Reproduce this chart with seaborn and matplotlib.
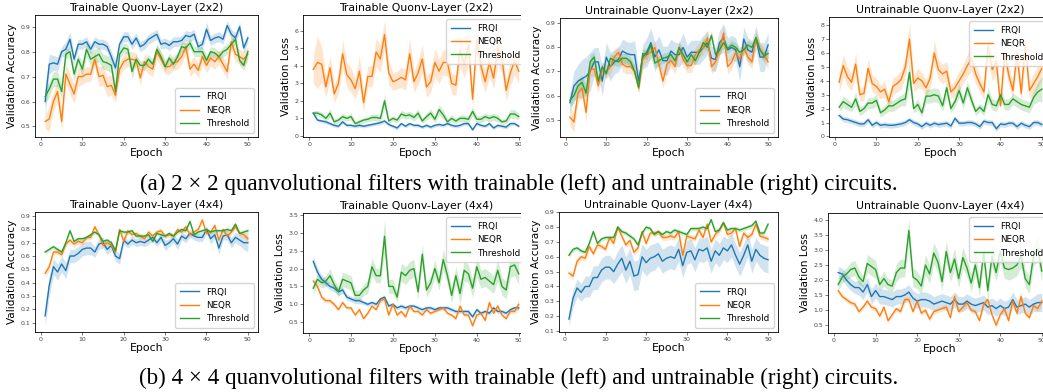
import numpy as np
import pandas as pd
import matplotlib
matplotlib.use("Agg")
import matplotlib.pyplot as plt
from matplotlib.patches import Rectangle
from matplotlib.ticker import MultipleLocator
import seaborn as sns

epochs = list(range(1, 51))
series_names = ["FRQI", "NEQR", "Threshold"]
colors = ["#1f77b4", "#ff7f0e", "#2ca02c"]

# ---------- (a) 2x2, trainable, accuracy ----------
a_tr_acc_frqi = [0.60,0.75,0.755,0.75,0.80,0.81,0.85,0.77,0.83,0.83,0.84,0.81,0.84,0.83,0.83,0.82,0.78,0.735,0.83,0.86,
                 0.86,0.83,0.855,0.82,0.83,0.85,0.86,0.87,0.83,0.835,0.825,0.84,0.84,0.845,0.865,0.86,0.87,0.82,0.83,0.89,
                 0.845,0.855,0.86,0.85,0.905,0.87,0.855,0.90,0.815,0.855]
a_tr_acc_neqr = [0.52,0.53,0.60,0.64,0.52,0.71,0.67,0.63,0.70,0.70,0.71,0.71,0.77,0.70,0.705,0.66,0.665,0.625,0.73,0.76,
                 0.77,0.77,0.765,0.695,0.76,0.74,0.73,0.80,0.77,0.74,0.74,0.755,0.76,0.78,0.82,0.73,0.75,0.725,0.78,0.745,
                 0.775,0.76,0.78,0.75,0.72,0.84,0.79,0.78,0.77,0.79]
a_tr_acc_thr = [0.62,0.65,0.69,0.69,0.64,0.79,0.80,0.71,0.77,0.73,0.81,0.77,0.78,0.79,0.76,0.755,0.745,0.64,0.79,0.815,
                0.81,0.72,0.77,0.745,0.745,0.77,0.75,0.81,0.78,0.74,0.775,0.75,0.78,0.82,0.815,0.835,0.80,0.80,0.80,0.765,
                0.80,0.795,0.78,0.80,0.81,0.83,0.85,0.765,0.745,0.80]
a_tr_acc_frqi_sd = [0.06,0.04,0.03,0.03,0.02,0.03,0.03,0.02,0.02,0.02,0.02,0.02,0.02,0.02,0.02,0.02,0.02,0.03,0.02,0.02,
                    0.02,0.02,0.02,0.02,0.02,0.02,0.02,0.02,0.02,0.02,0.02,0.02,0.02,0.02,0.02,0.02,0.02,0.02,0.02,0.03,
                    0.02,0.02,0.02,0.02,0.02,0.02,0.02,0.02,0.02,0.02]
a_tr_acc_neqr_sd = [0.03,0.05,0.04,0.04,0.04,0.04,0.04,0.04,0.04,0.03,0.03,0.03,0.03,0.04,0.04,0.04,0.04,0.03,0.03,0.03,
                    0.03,0.03,0.03,0.03,0.03,0.03,0.03,0.03,0.03,0.03,0.03,0.03,0.03,0.03,0.03,0.03,0.03,0.03,0.03,0.03,
                    0.03,0.03,0.03,0.03,0.03,0.03,0.03,0.03,0.03,0.03]
a_tr_acc_thr_sd = [0.03,0.03,0.03,0.03,0.03,0.02,0.02,0.03,0.02,0.03,0.03,0.03,0.03,0.03,0.03,0.03,0.03,0.03,0.02,0.02,
                   0.02,0.03,0.02,0.02,0.02,0.02,0.02,0.02,0.02,0.02,0.02,0.02,0.02,0.02,0.02,0.02,0.02,0.02,0.02,0.02,
                   0.02,0.02,0.02,0.02,0.02,0.02,0.02,0.02,0.02,0.02]

# ---------- (a) 2x2, trainable, loss ----------
a_tr_loss_frqi = [1.3,0.9,0.85,0.8,0.7,0.6,0.55,0.8,0.6,0.6,0.55,0.6,0.55,0.6,0.65,0.7,0.75,0.85,0.65,0.55,
                  0.45,0.7,0.55,0.7,0.6,0.6,0.5,0.6,0.5,0.6,0.65,0.6,0.7,0.6,0.55,0.6,0.7,0.7,0.35,0.7,
                  0.6,0.55,0.7,0.45,0.6,0.55,0.5,0.7,0.7,0.55]
a_tr_loss_neqr = [3.8,4.2,4.1,2.8,3.9,2.4,3.0,4.7,3.5,3.2,2.7,3.7,1.9,3.4,3.4,4.8,4.4,5.8,3.6,3.1,
                  3.2,3.35,3.2,4.7,3.1,3.6,4.4,2.8,3.1,4.2,3.7,4.2,4.2,3.0,2.9,4.9,4.1,5.2,2.1,5.5,
                  4.0,3.1,4.2,3.3,5.0,4.4,2.6,3.6,4.3,3.7]
a_tr_loss_thr = [1.3,1.3,1.2,1.0,1.3,0.8,0.9,1.1,1.0,1.1,0.7,0.8,0.9,0.95,1.05,1.05,1.0,2.0,0.85,1.0,
                 0.9,1.25,1.15,1.2,1.05,1.3,0.85,1.1,1.3,0.95,1.5,1.2,0.8,1.0,0.85,1.0,1.0,0.95,1.4,0.95,
                 0.95,1.1,1.0,1.1,1.0,0.8,0.85,1.25,1.25,1.1]
a_tr_loss_frqi_sd = [0.1,0.1,0.1,0.1,0.1,0.1,0.1,0.1,0.1,0.1,0.1,0.1,0.1,0.1,0.1,0.1,0.1,0.1,0.1,0.1,
                     0.1,0.1,0.1,0.1,0.1,0.1,0.1,0.1,0.1,0.1,0.1,0.1,0.1,0.1,0.1,0.1,0.1,0.1,0.1,0.1,
                     0.1,0.1,0.1,0.1,0.1,0.1,0.1,0.1,0.1,0.1]
a_tr_loss_neqr_sd = [0.8,1.5,1.0,0.6,0.7,0.5,0.6,0.8,0.7,0.7,0.6,0.9,0.5,0.6,0.6,0.8,0.8,0.8,0.7,0.5,
                     0.5,0.6,0.6,0.9,0.6,0.7,0.8,0.6,0.6,0.8,0.7,0.7,0.8,0.6,0.6,0.9,0.8,1.0,0.5,1.0,
                     0.8,0.6,0.8,0.6,0.9,0.8,0.6,0.7,0.8,0.7]
a_tr_loss_thr_sd = [0.15,0.15,0.15,0.15,0.25,0.15,0.15,0.2,0.15,0.2,0.1,0.15,0.15,0.15,0.2,0.2,0.2,0.4,0.15,0.15,
                    0.15,0.2,0.2,0.2,0.2,0.25,0.15,0.2,0.25,0.2,0.3,0.25,0.15,0.2,0.15,0.2,0.2,0.2,0.25,0.2,
                    0.2,0.2,0.2,0.2,0.2,0.15,0.15,0.25,0.25,0.2]

# ---------- (a) 2x2, untrainable, accuracy ----------
a_un_acc_frqi = [0.57,0.64,0.66,0.67,0.68,0.70,0.74,0.74,0.66,0.76,0.72,0.74,0.75,0.785,0.775,0.77,0.77,0.66,0.76,0.78,
                 0.82,0.76,0.79,0.745,0.745,0.785,0.77,0.77,0.80,0.76,0.78,0.78,0.78,0.80,0.82,0.755,0.75,0.82,0.84,0.79,
                 0.80,0.79,0.72,0.835,0.79,0.78,0.84,0.76,0.76,0.81]
a_un_acc_neqr = [0.51,0.49,0.61,0.63,0.53,0.71,0.71,0.64,0.71,0.70,0.72,0.76,0.78,0.73,0.72,0.72,0.70,0.63,0.75,0.77,
                 0.78,0.80,0.73,0.66,0.73,0.745,0.72,0.80,0.75,0.725,0.725,0.77,0.79,0.80,0.84,0.72,0.74,0.79,0.86,0.72,
                 0.74,0.78,0.75,0.80,0.76,0.74,0.84,0.79,0.77,0.74]
a_un_acc_thr = [0.58,0.60,0.64,0.655,0.61,0.74,0.76,0.66,0.72,0.69,0.755,0.745,0.74,0.755,0.755,0.74,0.70,0.635,0.775,0.77,
                0.81,0.735,0.745,0.755,0.76,0.77,0.745,0.80,0.77,0.74,0.77,0.745,0.78,0.82,0.80,0.85,0.77,0.79,0.82,0.795,
                0.81,0.80,0.78,0.79,0.81,0.80,0.84,0.79,0.765,0.775]
a_un_acc_frqi_sd = [0.04,0.06,0.07,0.08,0.08,0.08,0.06,0.06,0.06,0.06,0.06,0.05,0.05,0.05,0.05,0.05,0.06,0.04,0.05,0.06,
                    0.06,0.06,0.06,0.06,0.06,0.05,0.05,0.05,0.06,0.05,0.05,0.05,0.05,0.05,0.05,0.05,0.05,0.05,0.06,0.05,
                    0.05,0.05,0.06,0.05,0.05,0.05,0.05,0.06,0.06,0.05]
a_un_acc_neqr_sd = [0.04,0.04,0.04,0.04,0.04,0.03,0.03,0.03,0.03,0.03,0.03,0.03,0.03,0.03,0.03,0.03,0.03,0.02,0.03,0.03,
                    0.03,0.03,0.03,0.03,0.03,0.03,0.03,0.03,0.03,0.03,0.03,0.03,0.03,0.03,0.03,0.03,0.03,0.03,0.03,0.03,
                    0.03,0.03,0.03,0.03,0.03,0.03,0.03,0.03,0.03,0.03]
a_un_acc_thr_sd = [0.03,0.03,0.03,0.03,0.03,0.03,0.02,0.02,0.02,0.02,0.02,0.02,0.02,0.02,0.02,0.02,0.02,0.02,0.02,0.02,
                   0.02,0.02,0.02,0.02,0.02,0.02,0.02,0.02,0.02,0.02,0.02,0.02,0.02,0.02,0.02,0.02,0.02,0.02,0.02,0.02,
                   0.02,0.02,0.02,0.02,0.02,0.02,0.02,0.02,0.02,0.02]

# ---------- (a) 2x2, untrainable, loss ----------
a_un_loss_frqi = [1.5,1.25,1.2,1.1,1.0,0.9,0.9,1.2,0.8,1.0,0.8,0.85,0.8,0.8,0.85,0.9,1.0,1.2,1.0,0.9,
                  0.7,0.95,0.8,0.95,0.85,0.9,0.95,0.75,1.3,0.95,0.95,1.0,1.0,0.9,0.7,1.1,1.0,1.0,0.55,0.9,
                  0.85,0.95,0.95,0.7,0.95,0.8,0.7,1.0,1.0,0.85]
a_un_loss_neqr = [3.9,5.1,4.3,3.9,5.2,3.0,3.1,4.9,3.8,3.6,3.2,3.4,2.5,3.6,3.8,4.1,5.0,7.0,3.8,4.2,
                  4.0,3.5,4.2,6.0,4.8,4.5,4.7,3.2,3.5,4.0,4.5,5.1,5.6,4.5,3.8,3.2,6.5,4.8,5.4,2.2,
                  6.0,4.4,3.3,6.0,3.1,6.6,3.3,3.8,4.3,4.9]
a_un_loss_thr = [2.1,2.5,2.3,2.1,2.7,1.8,2.0,2.4,2.4,2.6,1.7,1.9,2.2,2.2,2.4,2.6,2.7,4.6,2.0,2.3,
                 1.7,2.9,2.9,3.0,2.9,2.2,3.5,2.0,2.5,3.3,2.4,3.5,2.6,1.8,2.1,1.8,3.0,2.3,2.2,3.0,
                 2.3,2.3,2.7,2.5,2.3,2.2,2.1,2.8,3.2,3.4]
a_un_loss_frqi_sd = [0.2,0.2,0.2,0.2,0.2,0.2,0.2,0.2,0.2,0.2,0.2,0.2,0.2,0.2,0.2,0.2,0.2,0.2,0.2,0.2,
                     0.2,0.2,0.2,0.2,0.2,0.2,0.2,0.2,0.2,0.2,0.2,0.2,0.2,0.2,0.2,0.2,0.2,0.2,0.2,0.2,
                     0.2,0.2,0.2,0.2,0.2,0.2,0.2,0.2,0.2,0.2]
a_un_loss_neqr_sd = [0.7,0.8,0.7,0.6,0.8,0.5,0.5,0.7,0.6,0.6,0.5,0.6,0.4,0.6,0.6,0.7,0.7,1.2,0.6,0.7,
                     0.6,0.6,0.7,0.9,0.7,0.7,0.7,0.5,0.6,0.7,0.7,0.8,0.9,0.7,0.6,0.6,1.0,0.8,0.9,0.4,
                     0.9,0.7,0.6,0.9,0.6,1.0,0.6,0.7,0.8,0.8]
a_un_loss_thr_sd = [0.3,0.4,0.4,0.3,0.5,0.3,0.3,0.4,0.4,0.4,0.3,0.3,0.4,0.4,0.4,0.4,0.5,0.9,0.3,0.4,
                    0.3,0.5,0.5,0.5,0.5,0.4,0.6,0.3,0.4,0.5,0.4,0.5,0.4,0.3,0.3,0.3,0.5,0.4,0.4,0.5,
                    0.4,0.4,0.4,0.4,0.4,0.4,0.4,0.5,0.7,0.9]

# ---------- (b) 4x4, trainable, accuracy ----------
b_tr_acc_frqi = [0.15,0.38,0.52,0.48,0.54,0.49,0.60,0.60,0.62,0.65,0.66,0.66,0.63,0.69,0.70,0.65,0.68,0.60,0.58,0.72,
                 0.69,0.72,0.70,0.71,0.70,0.72,0.74,0.70,0.74,0.68,0.70,0.73,0.69,0.75,0.73,0.77,0.75,0.74,0.74,0.80,
                 0.73,0.76,0.66,0.75,0.76,0.70,0.74,0.72,0.70,0.70]
b_tr_acc_neqr = [0.47,0.52,0.63,0.63,0.61,0.69,0.72,0.69,0.71,0.70,0.74,0.74,0.82,0.76,0.68,0.70,0.68,0.63,0.80,0.71,
                 0.79,0.76,0.77,0.75,0.73,0.78,0.75,0.78,0.79,0.75,0.76,0.75,0.80,0.78,0.82,0.76,0.78,0.80,0.87,0.77,
                 0.78,0.83,0.72,0.80,0.75,0.78,0.82,0.77,0.76,0.73]
b_tr_acc_thr = [0.63,0.65,0.67,0.65,0.63,0.70,0.79,0.71,0.73,0.73,0.74,0.76,0.78,0.76,0.71,0.72,0.70,0.64,0.79,0.78,
                0.78,0.79,0.75,0.75,0.75,0.76,0.71,0.77,0.76,0.75,0.77,0.75,0.78,0.80,0.79,0.86,0.76,0.78,0.79,0.80,
                0.78,0.79,0.79,0.79,0.80,0.79,0.84,0.77,0.78,0.79]
b_tr_acc_frqi_sd = [0.08,0.08,0.06,0.06,0.06,0.06,0.05,0.05,0.05,0.05,0.05,0.05,0.04,0.04,0.04,0.04,0.04,0.04,0.04,0.03,
                    0.03,0.03,0.03,0.03,0.03,0.03,0.03,0.03,0.03,0.04,0.03,0.03,0.04,0.03,0.03,0.03,0.03,0.03,0.03,0.03,
                    0.04,0.03,0.05,0.03,0.04,0.04,0.04,0.04,0.05,0.07]
b_tr_acc_neqr_sd = [0.03,0.03,0.02,0.02,0.02,0.02,0.02,0.02,0.02,0.02,0.02,0.02,0.02,0.02,0.02,0.02,0.02,0.02,0.02,0.02,
                    0.02,0.02,0.02,0.02,0.02,0.02,0.02,0.02,0.02,0.02,0.02,0.02,0.02,0.02,0.02,0.02,0.02,0.02,0.02,0.02,
                    0.02,0.02,0.02,0.02,0.02,0.02,0.02,0.02,0.02,0.03]
b_tr_acc_thr_sd = [0.015,0.015,0.015,0.015,0.015,0.015,0.02,0.015,0.015,0.015,0.015,0.015,0.015,0.015,0.015,0.015,0.015,0.015,0.015,0.015,
                   0.015,0.015,0.015,0.015,0.015,0.015,0.015,0.015,0.015,0.015,0.015,0.015,0.015,0.015,0.015,0.015,0.015,0.015,0.015,0.015,
                   0.015,0.015,0.015,0.015,0.015,0.015,0.015,0.015,0.015,0.02]

# ---------- (b) 4x4, trainable, loss ----------
b_tr_loss_frqi = [2.2,1.9,1.7,1.6,1.5,1.45,1.35,1.4,1.2,1.15,1.1,1.1,1.05,1.0,1.05,1.0,1.15,1.2,0.95,1.0,
                  0.9,0.95,0.9,0.95,0.95,0.9,0.85,0.9,0.9,0.85,0.9,0.9,0.9,0.85,0.8,0.8,0.8,0.8,0.65,0.85,
                  0.75,0.8,0.75,0.9,0.8,0.8,0.75,0.85,0.9,0.9]
b_tr_loss_neqr = [1.65,1.5,1.2,1.1,1.1,1.0,0.85,1.05,0.9,0.9,0.7,0.85,0.6,0.75,0.95,0.85,1.1,1.15,0.7,1.0,
                  0.7,0.8,0.65,0.95,0.8,0.8,0.7,0.85,0.75,0.8,0.85,0.9,0.75,0.7,0.6,0.95,0.7,0.7,0.4,0.7,
                  0.75,0.55,1.05,0.75,0.95,0.7,0.6,0.8,0.8,1.0]
b_tr_loss_thr = [1.45,1.7,1.6,1.65,1.8,1.55,1.35,1.7,1.65,1.6,1.25,1.25,1.4,1.5,2.05,1.8,1.8,2.9,1.5,1.5,
                 1.2,1.9,1.8,1.95,2.0,1.35,2.4,1.4,1.6,2.0,1.6,2.25,1.8,1.25,1.8,1.3,1.95,1.85,1.45,2.05,
                 1.7,1.75,1.65,1.55,1.95,1.5,1.4,2.05,2.1,1.85]
b_tr_loss_frqi_sd = [0.12,0.12,0.12,0.1,0.1,0.1,0.1,0.1,0.08,0.08,0.08,0.08,0.06,0.06,0.06,0.06,0.06,0.06,0.06,0.06,
                     0.06,0.06,0.06,0.06,0.06,0.06,0.06,0.06,0.06,0.06,0.06,0.06,0.06,0.06,0.06,0.06,0.06,0.06,0.06,0.06,
                     0.06,0.06,0.06,0.06,0.06,0.06,0.06,0.06,0.06,0.06]
b_tr_loss_neqr_sd = [0.08,0.08,0.06,0.06,0.06,0.06,0.05,0.06,0.05,0.05,0.05,0.05,0.05,0.05,0.05,0.05,0.06,0.06,0.05,0.06,
                     0.05,0.05,0.05,0.06,0.05,0.05,0.05,0.05,0.05,0.05,0.05,0.05,0.05,0.05,0.05,0.06,0.05,0.05,0.05,0.05,
                     0.05,0.05,0.08,0.05,0.08,0.05,0.05,0.05,0.06,0.15]
b_tr_loss_thr_sd = [0.15,0.15,0.15,0.15,0.2,0.15,0.15,0.2,0.2,0.2,0.15,0.15,0.15,0.2,0.25,0.2,0.2,0.5,0.2,0.2,
                    0.15,0.25,0.25,0.25,0.25,0.2,0.3,0.2,0.2,0.25,0.2,0.3,0.25,0.2,0.25,0.3,0.3,0.25,0.25,0.3,
                    0.25,0.25,0.25,0.25,0.3,0.25,0.25,0.3,0.3,0.3]

# ---------- (b) 4x4, untrainable, accuracy ----------
b_un_acc_frqi = [0.18,0.32,0.39,0.36,0.40,0.40,0.46,0.46,0.51,0.53,0.53,0.50,0.55,0.59,0.51,0.57,0.47,0.48,0.60,0.56,
                 0.59,0.60,0.62,0.57,0.59,0.60,0.59,0.65,0.54,0.63,0.64,0.58,0.65,0.64,0.66,0.57,0.64,0.61,0.66,0.64,
                 0.68,0.61,0.55,0.61,0.68,0.57,0.65,0.61,0.59,0.58]
b_un_acc_neqr = [0.49,0.47,0.57,0.60,0.59,0.67,0.62,0.68,0.67,0.65,0.73,0.69,0.80,0.74,0.68,0.71,0.63,0.66,0.77,0.69,
                 0.76,0.76,0.77,0.73,0.73,0.74,0.73,0.77,0.61,0.74,0.73,0.72,0.78,0.73,0.82,0.70,0.75,0.78,0.83,0.75,
                 0.76,0.79,0.67,0.76,0.73,0.75,0.82,0.74,0.73,0.72]
b_un_acc_thr = [0.61,0.65,0.66,0.64,0.63,0.69,0.77,0.69,0.72,0.73,0.73,0.73,0.80,0.77,0.76,0.74,0.72,0.68,0.76,0.80,
                0.79,0.75,0.77,0.75,0.77,0.76,0.78,0.77,0.76,0.75,0.79,0.79,0.79,0.80,0.79,0.85,0.77,0.78,0.83,0.78,
                0.79,0.79,0.78,0.79,0.80,0.81,0.84,0.76,0.76,0.82]
b_un_acc_frqi_sd = [0.05,0.06,0.06,0.06,0.07,0.07,0.08,0.08,0.08,0.08,0.08,0.08,0.09,0.09,0.09,0.09,0.1,0.1,0.09,0.09,
                    0.09,0.09,0.08,0.08,0.08,0.08,0.08,0.08,0.08,0.08,0.08,0.08,0.08,0.08,0.08,0.08,0.08,0.08,0.08,0.08,
                    0.08,0.08,0.08,0.08,0.08,0.08,0.08,0.08,0.09,0.09]
b_un_acc_neqr_sd = [0.02,0.02,0.02,0.02,0.02,0.02,0.02,0.02,0.02,0.02,0.02,0.02,0.02,0.02,0.02,0.02,0.02,0.02,0.02,0.02,
                    0.02,0.02,0.02,0.02,0.02,0.02,0.02,0.02,0.03,0.02,0.02,0.02,0.02,0.02,0.02,0.02,0.02,0.02,0.02,0.02,
                    0.02,0.02,0.02,0.02,0.02,0.02,0.02,0.02,0.02,0.02]
b_un_acc_thr_sd = [0.015,0.015,0.015,0.015,0.015,0.015,0.015,0.015,0.015,0.015,0.015,0.015,0.015,0.015,0.015,0.015,0.015,0.015,0.015,0.015,
                   0.015,0.015,0.015,0.015,0.015,0.015,0.015,0.015,0.015,0.015,0.015,0.015,0.015,0.015,0.015,0.015,0.015,0.015,0.015,0.015,
                   0.015,0.015,0.015,0.015,0.015,0.015,0.015,0.015,0.015,0.015]

# ---------- (b) 4x4, untrainable, loss ----------
b_un_loss_frqi = [2.25,2.2,2.0,1.85,1.75,1.75,1.6,1.85,1.45,1.65,1.45,1.45,1.4,1.35,1.45,1.45,1.5,1.6,1.4,1.3,
                  1.35,1.35,1.3,1.2,1.25,1.3,1.25,1.2,1.35,1.2,1.2,1.3,1.2,1.15,1.2,1.25,1.1,1.15,1.05,1.15,
                  1.05,1.1,1.35,1.1,1.15,1.2,1.1,1.2,1.25,1.25]
b_un_loss_neqr = [1.65,1.45,1.35,1.25,1.2,0.95,1.1,1.3,1.1,1.05,0.8,1.1,0.65,0.85,1.05,0.95,1.35,1.35,0.95,1.3,
                  0.9,1.0,0.7,0.95,1.0,1.05,1.1,0.75,1.45,0.95,1.1,1.25,1.0,0.95,0.65,1.2,1.35,0.85,0.5,0.85,
                  1.05,0.65,1.3,0.9,1.45,0.9,0.75,1.15,1.05,1.3]
b_un_loss_thr = [1.85,2.1,2.2,2.35,2.4,2.1,1.95,2.55,2.45,2.35,1.85,2.05,1.85,1.8,2.25,2.4,2.4,3.65,2.1,2.0,
                 1.8,2.5,2.2,2.9,2.6,1.95,2.95,2.25,2.7,2.05,2.75,2.4,1.9,2.5,1.75,2.9,1.65,2.8,2.25,2.95,
                 2.4,2.35,2.4,2.5,2.8,2.05,1.85,2.8,3.05,2.3]
b_un_loss_frqi_sd = [0.2,0.2,0.2,0.2,0.2,0.25,0.25,0.25,0.25,0.25,0.25,0.25,0.25,0.25,0.25,0.25,0.25,0.25,0.25,0.25,
                     0.25,0.25,0.25,0.25,0.25,0.25,0.25,0.25,0.25,0.25,0.25,0.25,0.25,0.25,0.25,0.25,0.25,0.25,0.25,0.25,
                     0.25,0.25,0.25,0.25,0.25,0.25,0.25,0.25,0.3,0.3]
b_un_loss_neqr_sd = [0.08,0.08,0.08,0.08,0.08,0.08,0.08,0.1,0.08,0.08,0.08,0.08,0.08,0.08,0.08,0.08,0.1,0.1,0.08,0.1,
                     0.08,0.08,0.08,0.08,0.08,0.1,0.1,0.08,0.15,0.08,0.1,0.1,0.08,0.08,0.08,0.1,0.1,0.08,0.08,0.08,
                     0.1,0.08,0.1,0.08,0.15,0.08,0.08,0.1,0.1,0.15]
b_un_loss_thr_sd = [0.2,0.2,0.2,0.25,0.25,0.25,0.2,0.3,0.3,0.3,0.2,0.25,0.2,0.2,0.3,0.3,0.3,0.4,0.3,0.3,
                    0.25,0.35,0.3,0.35,0.35,0.3,0.35,0.3,0.35,0.3,0.35,0.3,0.3,0.35,0.3,0.35,0.3,0.35,0.3,0.35,
                    0.35,0.35,0.35,0.35,0.35,0.3,0.3,0.35,0.4,0.35]

panels = [
    ("Trainable Quonv-Layer (2x2)", "Validation Accuracy", (a_tr_acc_frqi, a_tr_acc_neqr, a_tr_acc_thr),
     (a_tr_acc_frqi_sd, a_tr_acc_neqr_sd, a_tr_acc_thr_sd), 0.1, "lower right"),
    ("Trainable Quonv-Layer (2x2)", "Validation Loss", (a_tr_loss_frqi, a_tr_loss_neqr, a_tr_loss_thr),
     (a_tr_loss_frqi_sd, a_tr_loss_neqr_sd, a_tr_loss_thr_sd), 1, "upper right"),
    ("Untrainable Quonv-Layer (2x2)", "Validation Accuracy", (a_un_acc_frqi, a_un_acc_neqr, a_un_acc_thr),
     (a_un_acc_frqi_sd, a_un_acc_neqr_sd, a_un_acc_thr_sd), 0.1, "lower right"),
    ("Untrainable Quonv-Layer (2x2)", "Validation Loss", (a_un_loss_frqi, a_un_loss_neqr, a_un_loss_thr),
     (a_un_loss_frqi_sd, a_un_loss_neqr_sd, a_un_loss_thr_sd), 1, "upper right"),
    ("Trainable Quonv-Layer (4x4)", "Validation Accuracy", (b_tr_acc_frqi, b_tr_acc_neqr, b_tr_acc_thr),
     (b_tr_acc_frqi_sd, b_tr_acc_neqr_sd, b_tr_acc_thr_sd), 0.1, "lower right"),
    ("Trainable Quonv-Layer (4x4)", "Validation Loss", (b_tr_loss_frqi, b_tr_loss_neqr, b_tr_loss_thr),
     (b_tr_loss_frqi_sd, b_tr_loss_neqr_sd, b_tr_loss_thr_sd), 0.5, "upper right"),
    ("Untrainable Quonv-Layer (4x4)", "Validation Accuracy", (b_un_acc_frqi, b_un_acc_neqr, b_un_acc_thr),
     (b_un_acc_frqi_sd, b_un_acc_neqr_sd, b_un_acc_thr_sd), 0.1, "lower right"),
    ("Untrainable Quonv-Layer (4x4)", "Validation Loss", (b_un_loss_frqi, b_un_loss_neqr, b_un_loss_thr),
     (b_un_loss_frqi_sd, b_un_loss_neqr_sd, b_un_loss_thr_sd), 0.5, "upper right"),
]

captions = [
    "(a) 2 \u00d7 2 quanvolutional filters with trainable (left) and untrainable (right) circuits.",
    "(b) 4 \u00d7 4 quanvolutional filters with trainable (left) and untrainable (right) circuits.",
]

W, H = 1043, 392
fig = plt.figure(figsize=(W / 100, H / 100), dpi=100)
fig.patch.set_facecolor("white")


def rect(l, t, r, b):
    return [l / W, 1 - b / H, (r - l) / W, (b - t) / H]


boxes = [
    (35, 15, 258, 137), (303, 15, 529, 137), (560, 18, 778, 137), (829, 17, 1052, 137),
    (35, 212, 258, 332), (303, 213, 529, 333), (559, 212, 778, 332), (828, 213, 1052, 333),
]

for i, (box, (title, ylabel, means, sds, ystep, legloc)) in enumerate(zip(boxes, panels)):
    ax = fig.add_axes(rect(*box))
    ax.set_zorder(2 if i in (2, 6) else 0)
    rows = []
    for name, m, s in zip(series_names, means, sds):
        for e, mv, sv in zip(epochs, m, s):
            rows.append((e, name, mv - sv))
            rows.append((e, name, mv))
            rows.append((e, name, mv + sv))
    df = pd.DataFrame(rows, columns=["Epoch", "Series", "Value"])
    sns.lineplot(data=df, x="Epoch", y="Value", hue="Series", hue_order=series_names,
                 palette=colors, estimator="mean", errorbar=("pi", 100), linewidth=1.0,
                 err_kws={"alpha": 0.2, "linewidth": 0}, ax=ax)
    ax.set_title(title, fontsize=7.8, pad=3)
    ax.set_xlabel("Epoch", fontsize=7.8, labelpad=1)
    ax.set_ylabel(ylabel, fontsize=7.6, labelpad=2)
    ax.xaxis.set_major_locator(MultipleLocator(10))
    ax.yaxis.set_major_locator(MultipleLocator(ystep))
    ax.tick_params(labelsize=4.5, length=2, width=0.5, pad=1.5, colors="#444444")
    for sp in ax.spines.values():
        sp.set_linewidth(0.6)
    leg = ax.legend(loc=legloc, fontsize=6.3, handlelength=2.2, borderpad=0.5, labelspacing=0.5)
    for line in leg.get_lines():
        line.set_linewidth(1.0)

# white gaps that crop the loss panels on their right side
for y0, y1 in ((0, 160), (195, 360)):
    fig.add_artist(Rectangle((521 / W, 1 - y1 / H), 10 / W, (y1 - y0) / H,
                             transform=fig.transFigure, facecolor="white", edgecolor="none", zorder=1))

for txt, yc in zip(captions, (184, 378)):
    fig.text(519 / W, 1 - yc / H, txt, ha="center", va="center",
             fontsize=16.6, family="Liberation Serif")

fig.savefig("out.png", dpi=100, facecolor="white")
